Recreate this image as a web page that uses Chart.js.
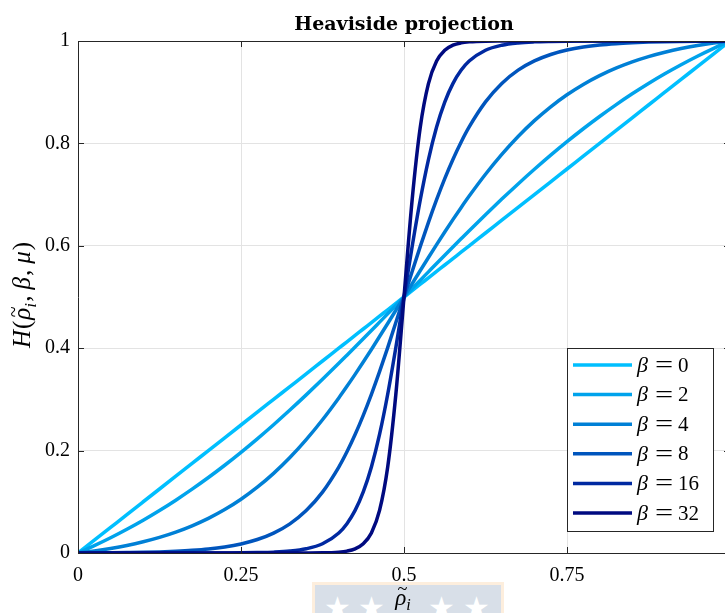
<!DOCTYPE html>
<html>
<head>
<meta charset="utf-8">
<script src="https://cdn.jsdelivr.net/npm/chart.js@4.4.1/dist/chart.umd.min.js"></script>
<style>
  html, body { margin: 0; padding: 0; background: #fff; overflow: hidden; width: 725px; height: 613px; }
  #wrap { position: absolute; left: 0; top: 0; width: 735px; height: 613px; }
  #plot { position: absolute; left: 0; top: 0; z-index: 2; }
  /* filigrane en bas de l'image */
  #stamp { position: absolute; left: 312px; top: 582px; width: 186px; height: 40px; background: #d8dfe8;
           border: 3px solid #fdeedd; z-index: 1; }
  #stamp span { position: absolute; top: 8px; color: #fff; font: 30px "DejaVu Sans"; line-height: 30px; }
</style>
</head>
<body>
<div id="wrap">
  <div id="stamp"><span style="left:9px">★</span><span style="left:43px">★</span><span style="left:113px">★</span><span style="left:148px">★</span></div>
  <canvas id="plot" width="735" height="613"></canvas>
</div>
<script>
  // abscisses (rho tilde)
  const xValues = [0, 0.025, 0.05, 0.075, 0.1, 0.125, 0.15, 0.175, 0.2, 0.225, 0.25, 0.275, 0.3, 0.325, 0.35, 0.375,
    0.4, 0.4125, 0.425, 0.4375, 0.45, 0.4625, 0.475, 0.4875, 0.5, 0.5125, 0.525, 0.5375, 0.55, 0.5625, 0.575, 0.5875,
    0.6, 0.625, 0.65, 0.675, 0.7, 0.725, 0.75, 0.775, 0.8, 0.825, 0.85, 0.875, 0.9, 0.925, 0.95, 0.975, 1];

  const betaLabels = ['0', '2', '4', '8', '16', '32'];
  const lineColors = ['#00bfff', '#00a3ec', '#0080d6', '#0055bd', '#0029a1', '#000a80'];

  const hBeta0 = [0, 0.025, 0.05, 0.075, 0.1, 0.125, 0.15, 0.175, 0.2, 0.225, 0.25, 0.275, 0.3, 0.325, 0.35, 0.375,
    0.4, 0.4125, 0.425, 0.4375, 0.45, 0.4625, 0.475, 0.4875, 0.5, 0.5125, 0.525, 0.5375, 0.55, 0.5625, 0.575, 0.5875,
    0.6, 0.625, 0.65, 0.675, 0.7, 0.725, 0.75, 0.775, 0.8, 0.825, 0.85, 0.875, 0.9, 0.925, 0.95, 0.975, 1];
  const hBeta2 = [0, 0.0143, 0.0297, 0.0463, 0.0640, 0.0830, 0.1032, 0.1247, 0.1474, 0.1714, 0.1966, 0.2230, 0.2506,
    0.2792, 0.3088, 0.3392, 0.3704, 0.3863, 0.4023, 0.4184, 0.4346, 0.4509, 0.4672, 0.4836, 0.5,
    0.5164, 0.5328, 0.5491, 0.5654, 0.5816, 0.5977, 0.6137, 0.6296, 0.6608, 0.6912, 0.7208, 0.7494, 0.7770, 0.8034,
    0.8286, 0.8526, 0.8753, 0.8968, 0.9170, 0.9360, 0.9537, 0.9703, 0.9857, 1];
  const hBeta4 = [0, 0.0040, 0.0089, 0.0148, 0.0220, 0.0305, 0.0408, 0.0531, 0.0676, 0.0848, 0.1050, 0.1285, 0.1556,
    0.1865, 0.2215, 0.2603, 0.3029, 0.3255, 0.3489, 0.3730, 0.3976, 0.4228, 0.4483, 0.4741, 0.5,
    0.5259, 0.5517, 0.5772, 0.6024, 0.6270, 0.6511, 0.6745, 0.6971, 0.7397, 0.7785, 0.8135, 0.8444, 0.8715, 0.8950,
    0.9152, 0.9324, 0.9469, 0.9592, 0.9695, 0.9780, 0.9852, 0.9911, 0.9960, 1];
  const hBeta8 = [0, 0.0002, 0.0004, 0.0008, 0.0013, 0.0021, 0.0034, 0.0052, 0.0078, 0.0118, 0.0177, 0.0263, 0.0389,
    0.0570, 0.0829, 0.1189, 0.1678, 0.1976, 0.2313, 0.2688, 0.3099, 0.3542, 0.4012, 0.4501, 0.5,
    0.5499, 0.5988, 0.6458, 0.6901, 0.7312, 0.7687, 0.8024, 0.8322, 0.8811, 0.9171, 0.9430, 0.9611, 0.9737, 0.9823,
    0.9882, 0.9922, 0.9948, 0.9966, 0.9979, 0.9987, 0.9992, 0.9996, 0.9998, 1];
  const hBeta16 = [0, 0, 0, 0, 0, 0, 0, 0, 0.0001, 0.0002, 0.0003, 0.0008, 0.0017, 0.0037, 0.0082, 0.0180,
    0.0392, 0.0573, 0.0832, 0.1192, 0.1680, 0.2315, 0.3100, 0.4013, 0.5,
    0.5987, 0.6900, 0.7685, 0.8320, 0.8808, 0.9168, 0.9427, 0.9608, 0.9820, 0.9918, 0.9963, 0.9983, 0.9992, 0.9997,
    0.9998, 0.9999, 1, 1, 1, 1, 1, 1, 1, 1];
  const hBeta32 = [0, 0, 0, 0, 0, 0, 0, 0, 0, 0, 0, 0, 0, 0, 0.0001, 0.0003,
    0.0017, 0.0037, 0.0082, 0.0180, 0.0392, 0.0832, 0.1680, 0.3100, 0.5,
    0.6900, 0.8320, 0.9168, 0.9608, 0.9820, 0.9918, 0.9963, 0.9983, 0.9997, 0.9999, 1, 1, 1, 1,
    1, 1, 1, 1, 1, 1, 1, 1, 1, 1];

  const series = [hBeta0, hBeta2, hBeta4, hBeta8, hBeta16, hBeta32];

  const AXIS = '#262626';
  const SERIF = '"Liberation Serif", "DejaVu Serif", serif';

  // texte "mathématique" : morceaux italiques / indices, centré sur l'origine
  function drawParts(ctx, parts, size) {
    let w = 0;
    parts.forEach(p => {
      ctx.font = (p.it ? 'italic ' : '') + (p.sub ? size * 0.7 : size) + 'px ' + SERIF;
      p.w = ctx.measureText(p.t).width + (p.gap || 0);
      w += p.w;
    });
    let x = -w / 2;
    parts.forEach(p => {
      ctx.font = (p.it ? 'italic ' : '') + (p.sub ? size * 0.7 : size) + 'px ' + SERIF;
      ctx.fillText(p.t, x, p.sub ? size * 0.22 : 0);
      if (p.tilde) {
        ctx.font = size * 0.8 + 'px ' + SERIF;
        ctx.fillText('~', x + p.w * 0.2, -size * 0.42);
      }
      x += p.w;
    });
  }

  const fmt = v => String(+v.toFixed(2));

  const decorPlugin = {
    id: 'decor',
    afterDraw(chart) {
      const ctx = chart.ctx;
      const a = chart.chartArea;
      const xs = chart.scales.x, ys = chart.scales.y;
      ctx.save();
      // cadre haut et droit
      ctx.strokeStyle = AXIS;
      ctx.lineWidth = 1;
      ctx.beginPath();
      ctx.moveTo(a.left, a.top + 0.5); ctx.lineTo(a.right, a.top + 0.5);
      ctx.moveTo(a.right - 0.5, a.top); ctx.lineTo(a.right - 0.5, a.bottom);
      ctx.stroke();
      // graduations vers l'intérieur
      ctx.beginPath();
      xs.ticks.forEach(t => {
        const px = Math.round(xs.getPixelForValue(t.value)) + 0.5;
        ctx.moveTo(px, a.bottom); ctx.lineTo(px, a.bottom - 6);
        ctx.moveTo(px, a.top); ctx.lineTo(px, a.top + 6);
      });
      ys.ticks.forEach(t => {
        const py = Math.round(ys.getPixelForValue(t.value)) + 0.5;
        ctx.moveTo(a.left, py); ctx.lineTo(a.left + 6, py);
        ctx.moveTo(a.right, py); ctx.lineTo(a.right - 6, py);
      });
      ctx.stroke();

      // titre
      ctx.fillStyle = '#000';
      ctx.textAlign = 'center';
      ctx.textBaseline = 'alphabetic';
      ctx.font = 'bold 19px "DejaVu Serif", serif';
      ctx.fillText('Heaviside projection', (a.left + a.right) / 2, 30);

      // titre axe x
      ctx.textAlign = 'left';
      ctx.save();
      ctx.translate((a.left + a.right) / 2 - 1, 605);
      drawParts(ctx, [{ t: 'ρ', it: true, tilde: true }, { t: 'i', it: true, sub: true }], 23);
      ctx.restore();

      // titre axe y
      ctx.save();
      ctx.translate(30, (a.top + a.bottom) / 2 - 2);
      ctx.rotate(-Math.PI / 2);
      drawParts(ctx, [{ t: 'H', it: true, gap: 1 }, { t: '(' , gap: 1 }, { t: 'ρ', it: true, tilde: true },
        { t: 'i', it: true, sub: true, gap: 1 }, { t: ',', gap: 6 }, { t: 'β', it: true, gap: 1 }, { t: ',', gap: 6 },
        { t: 'μ', it: true, gap: 1 }, { t: ')' }], 25);
      ctx.restore();

      // légende
      const bw = 146, bh = 183;
      const bx = a.right - 17 - bw, by = a.bottom - 22 - bh;
      ctx.fillStyle = '#fff';
      ctx.fillRect(bx, by, bw, bh);
      ctx.strokeStyle = AXIS;
      ctx.strokeRect(bx + 0.5, by + 0.5, bw, bh);
      chart.data.datasets.forEach((ds, i) => {
        const cy = by + 17 + i * 29.6;
        ctx.strokeStyle = ds.borderColor;
        ctx.lineWidth = 3.5;
        ctx.beginPath();
        ctx.moveTo(bx + 6, cy); ctx.lineTo(bx + 65, cy);
        ctx.stroke();
        ctx.fillStyle = '#000';
        ctx.textBaseline = 'middle';
        ctx.font = 'italic 22px ' + SERIF;
        ctx.fillText('β', bx + 70, cy + 1);
        // signe égal élargi comme en LaTeX
        ctx.save();
        ctx.translate(bx + 88, cy + 1);
        ctx.scale(1.4, 1);
        ctx.font = '23px ' + SERIF;
        ctx.fillText('=', 0, 0);
        ctx.restore();
        ctx.font = '21px ' + SERIF;
        ctx.fillText(betaLabels[i], bx + 111, cy + 1);
      });
      ctx.restore();
    }
  };

  const datasets = series.map((vals, i) => ({
    label: 'β = ' + betaLabels[i],
    data: xValues.map((x, k) => ({ x: x, y: vals[k] })),
    borderColor: lineColors[i],
    borderWidth: 3.5,
    pointRadius: 0,
    cubicInterpolationMode: 'monotone',
    fill: false,
    order: series.length - i
  }));

  new Chart(document.getElementById('plot'), {
    type: 'line',
    data: { datasets: datasets },
    options: {
      responsive: false,
      animation: false,
      layout: { padding: { top: 41, right: 5, left: 0, bottom: 0 } },
      plugins: { legend: { display: false }, title: { display: false }, tooltip: { enabled: false } },
      scales: {
        x: {
          type: 'linear', min: 0, max: 1,
          afterFit: s => { s.height = 60; s.paddingLeft = 0; s.paddingRight = 0; },
          ticks: { stepSize: 0.25, color: '#000', padding: 11, font: { family: SERIF, size: 20 }, maxRotation: 0,
                   autoSkip: false, callback: fmt },
          grid: { color: '#e3e3e3', drawTicks: false },
          border: { color: AXIS, width: 1 }
        },
        y: {
          min: 0, max: 1,
          afterFit: s => { s.width = 78; s.paddingTop = 0; s.paddingBottom = 0; },
          ticks: { stepSize: 0.2, color: '#000', padding: 8, font: { family: SERIF, size: 20 }, callback: fmt },
          grid: { color: '#e3e3e3', drawTicks: false },
          border: { color: AXIS, width: 1 }
        }
      }
    },
    plugins: [decorPlugin]
  });
</script>
</body>
</html>
